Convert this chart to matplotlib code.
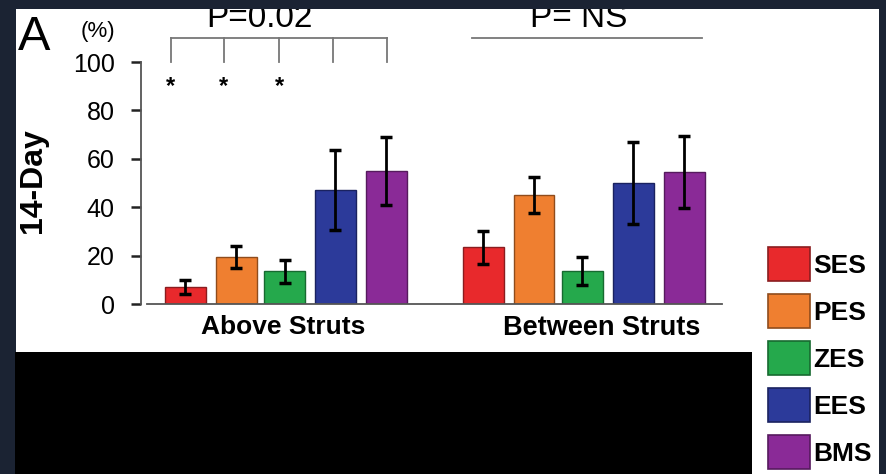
import matplotlib
matplotlib.use("Agg")
import matplotlib.pyplot as plt
from matplotlib.patches import Rectangle, Patch
import numpy as np

plt.rcParams['font.family'] = ['Liberation Sans', 'DejaVu Sans']

# ---- data -------------------------------------------------------------
stents = ["SES", "PES", "ZES", "EES", "BMS"]
colors = ["#e8292c", "#ef7f30", "#25a94c", "#2c3a9a", "#8a2a97"]
edge_colors = ["#8a1d1f", "#8f4c1c", "#176a30", "#1a2260", "#561a5e"]
groups = ["Above Struts", "Between Struts"]

above_mean = [7.0, 19.5, 13.5, 47.0, 55.0]
above_err = [3.0, 4.5, 4.8, 16.5, 14.0]
between_mean = [23.5, 45.0, 13.5, 50.0, 54.5]
between_err = [6.8, 7.3, 5.8, 17.0, 14.8]

yticks = [0, 20, 40, 60, 80, 100]

# ---- figure -----------------------------------------------------------
W, H = 887, 474
fig = plt.figure(figsize=(W / 100, H / 100), dpi=100)
fig.patch.set_facecolor("#1b2333")

def px_rect(x0, y0, x1, y1, color, z):
    fig.add_artist(Rectangle((x0 / W, 1 - y1 / H), (x1 - x0) / W, (y1 - y0) / H,
                             transform=fig.transFigure, facecolor=color,
                             edgecolor="none", zorder=z))

# white panel
px_rect(16, 0, 879, 474, "white", -10)

ax = fig.add_axes([141 / W, (H - 304) / H, (725 - 141) / W, 242 / H])
ax.set_facecolor("none")
ax.set_xlim(-2.87, 8.6)
ax.set_ylim(0, 100)

group_x = [0.0, 5.85]
offsets = np.array([-2.0, -1.0, -0.05, 0.95, 1.95])
bw = 0.8
for gx, means, errs in zip(group_x, [above_mean, between_mean], [above_err, between_err]):
    xs = gx + offsets
    ax.bar(xs, means, width=bw, color=colors, edgecolor=edge_colors, linewidth=1.0, zorder=2)
    ax.errorbar(xs, means, yerr=errs, fmt="none", ecolor="black", elinewidth=2.0,
                capsize=4, capthick=2.5, zorder=3)

# axes styling
for s in ["top", "right", "bottom"]:
    ax.spines[s].set_visible(False)
ax.spines["left"].set_color("#555555")
ax.spines["left"].set_linewidth(1.3)
ax.set_yticks(yticks)
ax.set_yticklabels([str(t) for t in yticks], fontsize=18)
ax.tick_params(axis="y", length=7, width=1.8, pad=12, color="#222222")
ax.set_xticks([])
ax.plot([-2.75, 8.55], [0, 0], color="#555555", lw=1.3, clip_on=False, zorder=4)

# group labels
ax.text(-0.07, -4.5, groups[0], ha="center", va="top", fontsize=19, fontweight="bold")
ax.text(6.18, -4.5, groups[1], ha="center", va="top", fontsize=19.5, fontweight="bold")

# significance bracket (Above Struts)
br_x = [-2.29, -1.24, -0.15, 0.90, 1.96]
ax.plot([br_x[0], br_x[-1]], [110, 110], color="#777777", lw=1.3, clip_on=False)
for bx in br_x:
    ax.plot([bx, bx], [100, 110], color="#777777", lw=1.3, clip_on=False)
for bx in br_x[:3]:
    ax.text(bx, 87.2, "*", ha="center", va="baseline", fontsize=17, fontweight="bold")
ax.text(-0.54, 114.5, "P=0.02", ha="center", va="baseline", fontsize=24, clip_on=False)

# Between Struts line
ax.plot([3.63, 8.15], [110, 110], color="#777777", lw=1.3, clip_on=False)
ax.text(5.73, 114.5, "P= NS", ha="center", va="baseline", fontsize=24, clip_on=False)

# labels on figure
fig.text(34 / W, 1 - 38 / H, "A", ha="center", va="center", fontsize=35)
fig.text(98 / W, 1 - 31 / H, "(%)", ha="center", va="center", fontsize=16)
fig.text(33 / W, 1 - 181 / H, "14-Day", ha="center", va="center", rotation=90,
         fontsize=23, fontweight="bold")

# frame strips and blacked-out area drawn over the panel
px_rect(0, 0, W, 9, "#1b2333", 20)
px_rect(0, 0, 16, H, "#1b2333", 20)
px_rect(879, 0, W, H, "#1b2333", 20)
px_rect(15, 352, 752, H, "black", 20)

# legend
handles = [Patch(facecolor=c, edgecolor=e, linewidth=1.2) for c, e in zip(colors, edge_colors)]
leg = fig.legend(handles, stents, loc="upper left", bbox_to_anchor=(768 / W, 1 - 247 / H),
                 frameon=False, borderpad=0, borderaxespad=0, handlelength=1.6,
                 handleheight=1.6, labelspacing=0.5, handletextpad=0.12,
                 prop={"size": 19, "weight": "bold"})
leg.set_zorder(30)

fig.savefig("out.png", dpi=100, facecolor=fig.get_facecolor())
